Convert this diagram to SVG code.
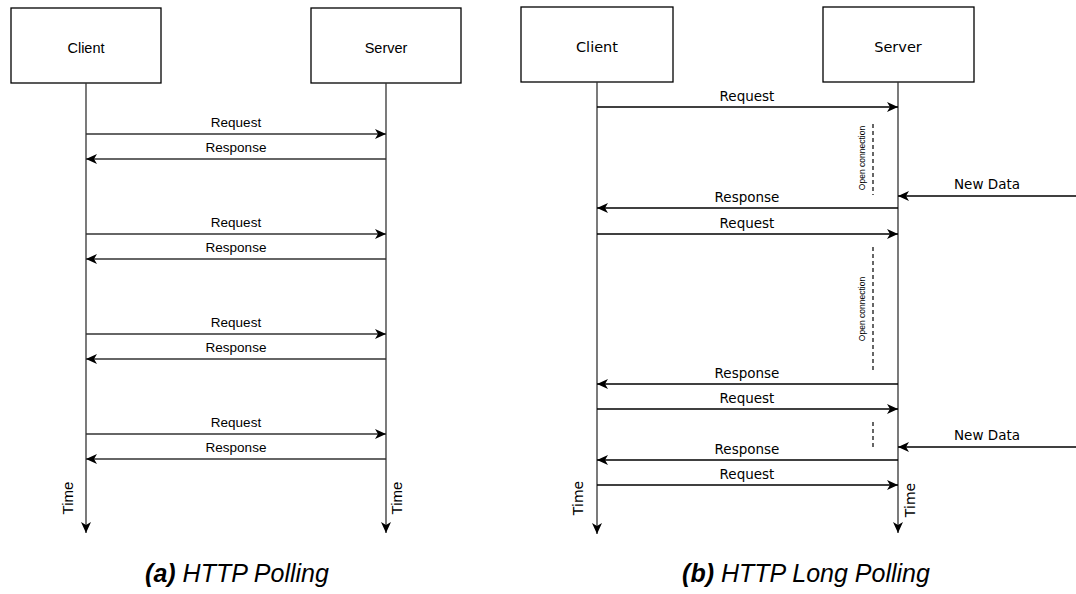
<svg xmlns="http://www.w3.org/2000/svg" width="1076" height="594" viewBox="0 0 1076 594">
<style>
.box{fill:#fff;stroke:#000;stroke-width:1.3}
.lifeL{stroke:#333;stroke-width:1.3;fill:none}
.lifeR{stroke:#333;stroke-width:1.3;fill:none}
.msgL{stroke:#333;stroke-width:1.3;fill:none}
.msgR{stroke:#000;stroke-width:1.3;fill:none}
.dash{stroke:#000;stroke-width:1.2;stroke-dasharray:4 3;fill:none}
.tL{font-family:"Liberation Sans",Arial,sans-serif;font-size:13.5px;fill:#000;text-anchor:middle}
.tmL{font-family:"Liberation Sans",Arial,sans-serif;font-size:15px;fill:#000;text-anchor:middle}
.bL{font-family:"Liberation Sans",Arial,sans-serif;font-size:14.5px;fill:#000;text-anchor:middle}
.tR{font-family:"DejaVu Sans",Verdana,sans-serif;font-size:13.5px;fill:#000;text-anchor:middle}
.tmR{font-family:"DejaVu Sans",Verdana,sans-serif;font-size:14px;fill:#000;text-anchor:middle}
.bR{font-family:"DejaVu Sans",Verdana,sans-serif;font-size:14.5px;fill:#000;text-anchor:middle}
.oc{font-family:"Liberation Sans",Arial,sans-serif;font-size:8.5px;fill:#000;text-anchor:middle}
.cap{font-family:"Liberation Sans",Arial,sans-serif;font-size:25px;font-style:italic;fill:#000;text-anchor:middle}
</style>
<defs>
<marker id="ah" markerUnits="userSpaceOnUse" markerWidth="12" markerHeight="11" refX="11" refY="5" orient="auto" viewBox="0 0 12 11">
<path d="M0,0 L11,5 L0,10 L3,5 Z" fill="#000"/>
</marker>
</defs>
<rect width="1076" height="594" fill="#fff"/>

<g id="a-client"><rect class="box" x="11" y="8" width="150" height="75"/><text class="bL" x="86" y="52.5">Client</text></g>
<g id="a-server"><rect class="box" x="311" y="8" width="150" height="75"/><text class="bL" x="386" y="52.5">Server</text></g>
<g id="b-client"><rect class="box" x="521" y="7" width="152" height="75"/><text class="bR" x="597" y="52">Client</text></g>
<g id="b-server"><rect class="box" x="823" y="7" width="151" height="75"/><text class="bR" x="898" y="52">Server</text></g>

<g id="connectors">
<line class="lifeL" x1="86" y1="83" x2="86" y2="533" marker-end="url(#ah)"/>
<line class="lifeL" x1="386" y1="83" x2="386" y2="533" marker-end="url(#ah)"/>
<line class="msgL" x1="86" y1="134" x2="386" y2="134" marker-end="url(#ah)"/>
<line class="msgL" x1="386" y1="159" x2="86" y2="159" marker-end="url(#ah)"/>
<line class="msgL" x1="86" y1="234" x2="386" y2="234" marker-end="url(#ah)"/>
<line class="msgL" x1="386" y1="259" x2="86" y2="259" marker-end="url(#ah)"/>
<line class="msgL" x1="86" y1="334" x2="386" y2="334" marker-end="url(#ah)"/>
<line class="msgL" x1="386" y1="359" x2="86" y2="359" marker-end="url(#ah)"/>
<line class="msgL" x1="86" y1="434" x2="386" y2="434" marker-end="url(#ah)"/>
<line class="msgL" x1="386" y1="459" x2="86" y2="459" marker-end="url(#ah)"/>

<line class="lifeR" x1="597" y1="82" x2="597" y2="534" marker-end="url(#ah)"/>
<line class="lifeR" x1="898" y1="82" x2="898" y2="533" marker-end="url(#ah)"/>
<line class="msgR" x1="597" y1="107" x2="898" y2="107" marker-end="url(#ah)"/>
<line class="msgR" x1="1076" y1="196" x2="898" y2="196" marker-end="url(#ah)"/>
<line class="msgR" x1="898" y1="208" x2="597" y2="208" marker-end="url(#ah)"/>
<line class="msgR" x1="597" y1="234" x2="898" y2="234" marker-end="url(#ah)"/>
<line class="msgR" x1="898" y1="384" x2="597" y2="384" marker-end="url(#ah)"/>
<line class="msgR" x1="597" y1="409" x2="898" y2="409" marker-end="url(#ah)"/>
<line class="msgR" x1="1076" y1="447" x2="898" y2="447" marker-end="url(#ah)"/>
<line class="msgR" x1="898" y1="460" x2="597" y2="460" marker-end="url(#ah)"/>
<line class="msgR" x1="597" y1="485" x2="898" y2="485" marker-end="url(#ah)"/>
<line class="dash" x1="873" y1="124" x2="873" y2="195"/>
<line class="dash" x1="873" y1="247" x2="873" y2="372"/>
<line class="dash" x1="873" y1="422" x2="873" y2="447"/>
</g>

<g id="labels">
<text class="tL" x="236" y="126.5">Request</text>
<text class="tL" x="236" y="151.5">Response</text>
<text class="tL" x="236" y="226.5">Request</text>
<text class="tL" x="236" y="251.5">Response</text>
<text class="tL" x="236" y="326.5">Request</text>
<text class="tL" x="236" y="351.5">Response</text>
<text class="tL" x="236" y="426.5">Request</text>
<text class="tL" x="236" y="451.5">Response</text>
<text class="tmL" transform="translate(72.5,498) rotate(-90)" x="0" y="0">Time</text>
<text class="tmL" transform="translate(401.5,498) rotate(-90)" x="0" y="0">Time</text>

<text class="tR" x="747" y="101">Request</text>
<text class="tR" x="987" y="189">New Data</text>
<text class="tR" x="747" y="202">Response</text>
<text class="tR" x="747" y="228">Request</text>
<text class="tR" x="747" y="378">Response</text>
<text class="tR" x="747" y="403">Request</text>
<text class="tR" x="987" y="440">New Data</text>
<text class="tR" x="747" y="454">Response</text>
<text class="tR" x="747" y="479">Request</text>
<text class="tmR" transform="translate(583,498) rotate(-90)" x="0" y="0">Time</text>
<text class="tmR" transform="translate(915,500) rotate(-90)" x="0" y="0">Time</text>
<text class="oc" transform="translate(865,158) rotate(-90)" x="0" y="0">Open connection</text>
<text class="oc" transform="translate(865,309) rotate(-90)" x="0" y="0">Open connection</text>

<text class="cap" x="237" y="582"><tspan font-weight="bold">(a)</tspan> HTTP Polling</text>
<text class="cap" x="806" y="582"><tspan font-weight="bold">(b)</tspan> HTTP Long Polling</text>
</g>
</svg>
